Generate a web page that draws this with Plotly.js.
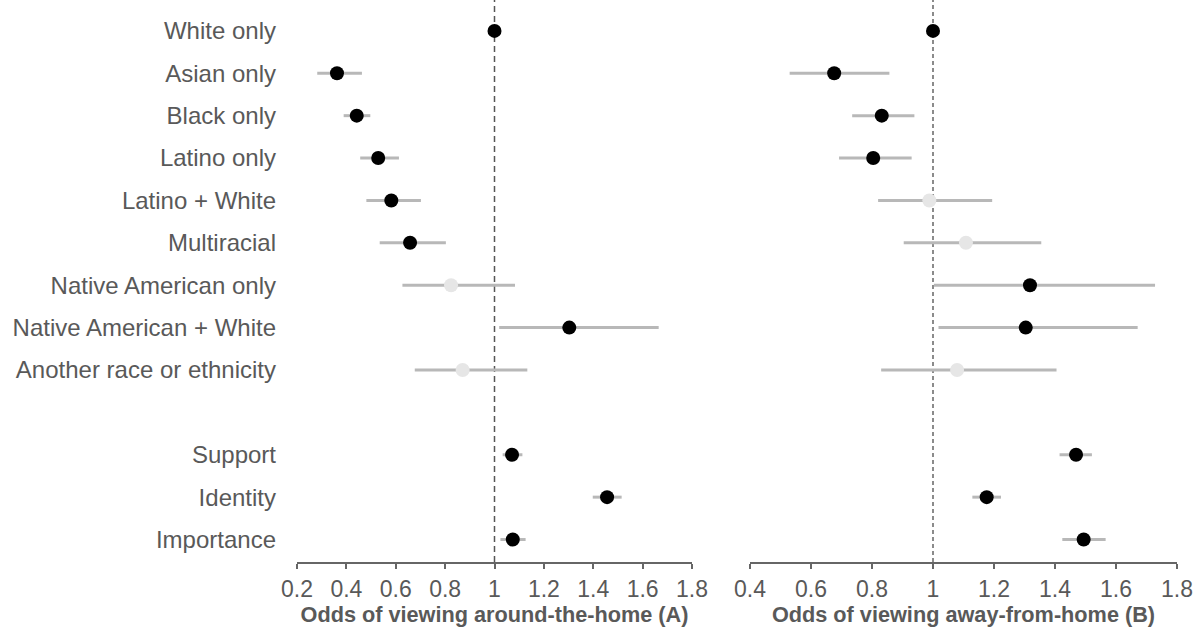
<!DOCTYPE html>
<html>
<head>
<meta charset="utf-8">
<script src="https://cdn.plot.ly/plotly-3.0.1.min.js"></script>
<style>html,body{margin:0;padding:0;background:#fff;}#chart{width:1197px;height:638px;}</style>
</head>
<body>
<div id="chart"></div>
<script>
// Row labels (blank row separates the two groups)
const labels = ["White only","Asian only","Black only","Latino only","Latino + White","Multiracial",
  "Native American only","Native American + White","Another race or ethnicity","",
  "Support","Identity","Importance"];

// Panel A: odds of viewing around-the-home
const estA = [1.00, 0.362, 0.442, 0.529, 0.582, 0.658, 0.824, 1.303, 0.871, null, 1.071, 1.456, 1.074];
const loA  = [1.00, 0.282, 0.389, 0.456, 0.481, 0.535, 0.627, 1.019, 0.677, null, 1.033, 1.398, 1.024];
const hiA  = [1.00, 0.463, 0.497, 0.613, 0.702, 0.803, 1.083, 1.665, 1.133, null, 1.113, 1.515, 1.126];

// Panel B: odds of viewing away-from-home
const estB = [1.00, 0.676, 0.832, 0.804, 0.988, 1.108, 1.318, 1.304, 1.079, null, 1.469, 1.176, 1.494];
const loB  = [1.00, 0.530, 0.735, 0.692, 0.820, 0.904, 1.003, 1.018, 0.830, null, 1.415, 1.129, 1.424];
const hiB  = [1.00, 0.857, 0.939, 0.930, 1.194, 1.355, 1.728, 1.671, 1.405, null, 1.521, 1.223, 1.566];

const tickA = [0.2, 0.4, 0.6, 0.8, 1, 1.2, 1.4, 1.6, 1.8];
const tickB = [0.4, 0.6, 0.8, 1, 1.2, 1.4, 1.6, 1.8];

const titleA = "Odds of viewing around-the-home (A)";
const titleB = "Odds of viewing away-from-home (B)";

const rows = labels.map((_, i) => i);
const TXT = "#595959";
const FONT = "Liberation Sans, Arial, sans-serif";

function colors(est, lo, hi) {
  return est.map((e, i) => {
    if (e === null) return "#000";
    const sig = (lo[i] > 1 || hi[i] < 1) || (lo[i] === 1 && hi[i] === 1);
    return sig ? "#000000" : "#e6e6e6";
  });
}
function trace(est, lo, hi, xa) {
  return {
    type: "scatter", mode: "markers", x: est, y: rows, xaxis: xa, yaxis: "y",
    marker: {size: 14, color: colors(est, lo, hi), line: {width: 0}},
    error_x: {type: "data", symmetric: false,
      array: est.map((e, i) => e === null ? null : hi[i] - e),
      arrayminus: est.map((e, i) => e === null ? null : e - lo[i]),
      width: 0, thickness: 3, color: "#b8b8b8"},
    hoverinfo: "x+y"
  };
}

const data = [trace(estA, loA, hiA, "x"), trace(estB, loB, hiB, "x2")];

function xax(dom, ticks, title) {
  return {
    domain: dom, range: [ticks[0], ticks[ticks.length - 1]], anchor: "y",
    tickmode: "array", tickvals: ticks, ticktext: ticks.map(String),
    showgrid: false, zeroline: false, showline: true, linecolor: "#666", linewidth: 2,
    ticks: "outside", ticklen: 5, tickwidth: 2, tickcolor: "#666",
    tickfont: {family: FONT, size: 23, color: TXT},
    title: {text: title, font: {family: FONT, size: 21.7, color: TXT, weight: "bold"}, standoff: 3},
    fixedrange: true
  };
}
function xover(ov, ticks) {
  return {
    overlaying: ov, anchor: "y", range: [ticks[0], ticks[ticks.length - 1]],
    tickmode: "array", tickvals: ticks, showticklabels: false,
    showgrid: false, zeroline: false, showline: false,
    ticks: "inside", ticklen: 6, tickwidth: 2, tickcolor: "#666", side: "bottom"
  };
}

const dA = [0, (692 - 297) / 880];
const dB = [(750 - 297) / 880, 1];

const layout = {
  width: 1197, height: 638,
  margin: {l: 297, r: 20, t: 8, b: 76},
  paper_bgcolor: "#fff", plot_bgcolor: "#fff", showlegend: false,
  font: {family: FONT, color: TXT},
  xaxis: xax(dA, tickA, titleA),
  xaxis2: xax(dB, tickB, titleB),
  xaxis3: xover("x", tickA),
  xaxis4: xover("x2", tickB),
  yaxis: {
    range: [12.53, -0.54], tickmode: "array", tickvals: rows, ticktext: labels,
    showgrid: false, zeroline: false, showline: false, ticks: "",
    tickfont: {family: FONT, size: 24, color: TXT}, ticklabelstandoff: 20, fixedrange: true
  },
  shapes: [
    {type: "line", xref: "x", yref: "paper", x0: 1, x1: 1, y0: 0, y1: 1.015,
     line: {color: "#555", width: 1.5, dash: "6px,4px"}, layer: "below"},
    {type: "line", xref: "x2", yref: "paper", x0: 1, x1: 1, y0: 0, y1: 1.015,
     line: {color: "#666", width: 1.5, dash: "4px,3px"}, layer: "below"}
  ]
};

Plotly.newPlot("chart", data, layout, {displayModeBar: false, staticPlot: true});
</script>
</body>
</html>
